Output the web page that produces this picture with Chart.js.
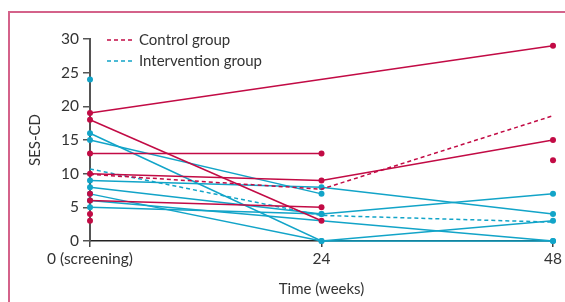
<!DOCTYPE html>
<html lang="en">
<head>
  <meta charset="UTF-8" />
  <title>SES-CD over time</title>
  <script src="https://cdn.jsdelivr.net/npm/chart.js@4"></script>
  <style>
    html, body { margin: 0; padding: 0; background: #fff; }
    #wrap { position: relative; width: 565px; height: 302px; overflow: hidden; }
    #panel { position: absolute; left: 8px; top: 11px; width: 600px; height: 320px;
             border-left: 2px solid #d4628a; border-top: 2px solid #d4628a; box-sizing: border-box; }
    canvas { position: absolute; left: 0; top: 0; }
  </style>
</head>
<body>
<div id="wrap">
  <div id="panel"></div>
  <canvas id="chart" width="565" height="302"></canvas>
</div>
<script>
  // time points (weeks) and tick labels
  const weeks = [0, 24, 48];
  const weekLabels = ['0 (screening)', '24', '48'];
  const yTicks = [0, 5, 10, 15, 20, 25, 30];

  // individual SES-CD scores, one array per patient (null = not measured)
  const controlPatients = [
    [19, null, 29],
    [18, 3, null],
    [13, 13, null],
    [10, 9, 15],
    [7, null, null],
    [6, 5, null],
    [4, null, null],
    [3, null, null],
    [null, null, 12]
  ];
  const interventionPatients = [
    [24, null, null],
    [16, 0, 3],
    [15, 7, null],
    [9, 8, 4],
    [8, 4, 7],
    [7, 0, 0],
    [6, null, 0],
    [5, 4, null]
  ];

  // group means (dashed)
  const controlMean = [9.9, 7.7, 18.6];
  const interventionMean = [10.7, 3.8, 2.8];

  const RED = '#c20b45';
  const CYAN = '#12a4c8';
  const TEXT = '#333';
  const FONT = 'Lato';

  const toPts = arr => arr.map((v, i) => ({x: weeks[i], y: v}));

  const datasets = [];
  controlPatients.forEach(p => datasets.push({
    data: toPts(p), borderColor: RED, backgroundColor: RED, borderWidth: 1.5,
    pointRadius: 3, pointBorderWidth: 0, spanGaps: true, order: 1, clip: false
  }));
  interventionPatients.forEach(p => datasets.push({
    data: toPts(p), borderColor: CYAN, backgroundColor: CYAN, borderWidth: 1.5,
    pointRadius: 3, pointBorderWidth: 0, spanGaps: true, order: 3, clip: false
  }));
  datasets.push({label: 'Control group', data: toPts(controlMean), borderColor: RED,
    borderWidth: 1.5, borderDash: [4, 3], pointRadius: 0, order: 0, clip: false});
  datasets.push({label: 'Intervention group', data: toPts(interventionMean), borderColor: CYAN,
    borderWidth: 1.5, borderDash: [4, 3], pointRadius: 0, order: 2, clip: false});

  // legend drawn in the top-left of the plot area
  const dashLegend = {
    id: 'dashLegend',
    afterDraw(chart) {
      const {ctx, chartArea} = chart;
      const items = chart.data.datasets.filter(d => d.label);
      ctx.save();
      ctx.font = '15px ' + FONT;
      ctx.fillStyle = TEXT;
      ctx.textBaseline = 'middle';
      items.forEach((d, i) => {
        const y = chartArea.top + 1 + i * 21;
        const x = chartArea.left + 17;
        ctx.strokeStyle = d.borderColor;
        ctx.lineWidth = 1.5;
        ctx.setLineDash([4, 3]);
        ctx.beginPath(); ctx.moveTo(x, y); ctx.lineTo(x + 27, y); ctx.stroke();
        ctx.setLineDash([]);
        ctx.fillText(d.label, x + 32, y);
      });
      ctx.restore();
    }
  };

  new Chart(document.getElementById('chart'), {
    type: 'line',
    data: {datasets},
    plugins: [dashLegend],
    options: {
      responsive: false,
      animation: false,
      layout: {padding: {top: 39, right: 11, left: 0, bottom: 0}},
      plugins: {legend: {display: false}, tooltip: {enabled: false}},
      scales: {
        x: {
          type: 'linear', min: 0, max: 48,
          afterBuildTicks: s => { s.ticks = weeks.map(v => ({value: v})); },
          afterFit: s => { s.height = 61; },
          ticks: {
            callback: v => weekLabels[weeks.indexOf(v)],
            color: TEXT, font: {family: FONT, size: 15.5}, padding: 3, maxRotation: 0, autoSkip: false
          },
          grid: {drawOnChartArea: false, tickLength: 6, color: '#444', lineWidth: 1.5},
          border: {color: '#222', width: 1.5},
          title: {display: true, text: 'Time (weeks)', color: TEXT, font: {family: FONT, size: 15}, padding: {top: 2}}
        },
        y: {
          min: 0, max: 30,
          afterBuildTicks: s => { s.ticks = yTicks.map(v => ({value: v})); },
          afterFit: s => { s.width = 90; },
          ticks: {color: TEXT, font: {family: FONT, size: 15.5}, padding: 4},
          grid: {drawOnChartArea: false, tickLength: 7, color: '#555', lineWidth: 1.5},
          border: {color: '#555', width: 2},
          title: {display: true, text: 'SES-CD', color: TEXT, font: {family: FONT, size: 15}, padding: {top: 26, bottom: 0}}
        }
      }
    }
  });
</script>
</body>
</html>
